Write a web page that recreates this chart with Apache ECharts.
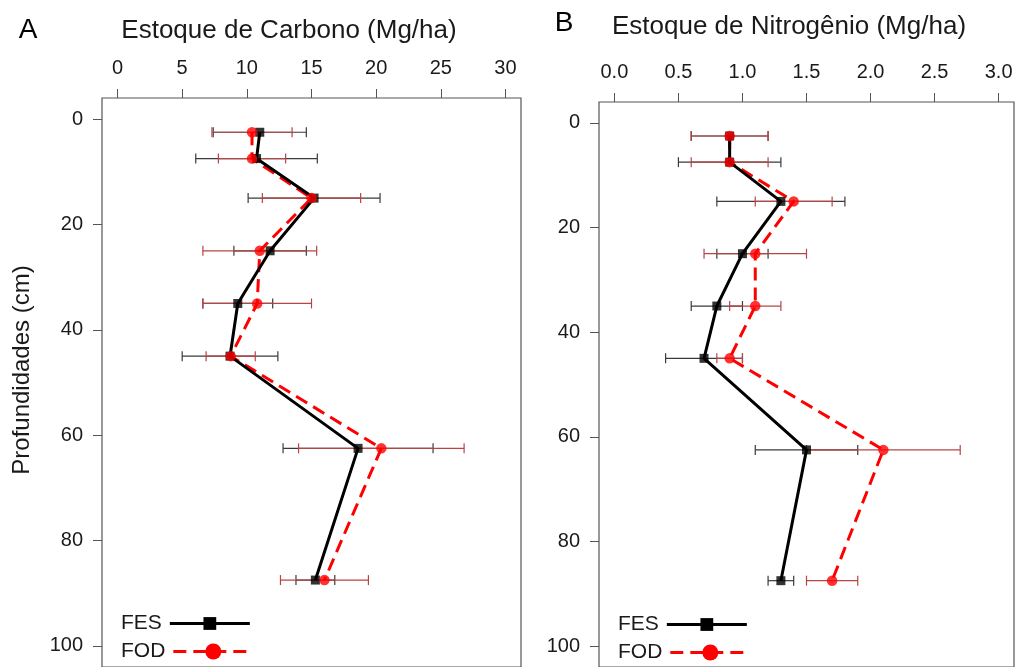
<!DOCTYPE html>
<html>
<head>
<meta charset="utf-8">
<script src="https://cdn.jsdelivr.net/npm/echarts@6/dist/echarts.min.js"></script>
<style>
  html, body { margin: 0; padding: 0; background: #fff; }
  #chart { width: 1022px; height: 667px; }
</style>
</head>
<body>
<div id="chart"></div>
<script>
// Soil layer mid-depths (cm)
const depths = [2.5, 7.5, 15, 25, 35, 45, 62.5, 87.5];

// Carbon stock (Mg/ha): means and error half-widths
const carbonFES    = [11.0, 10.75, 15.2, 11.8, 9.3, 8.7, 18.6, 15.3];
const carbonFESerr = [3.6, 4.7, 5.1, 2.8, 2.7, 3.7, 5.8, 1.5];
const carbonFOD    = [10.4, 10.4, 15.0, 11.0, 10.8, 8.75, 20.4, 16.0];
const carbonFODerr = [3.1, 2.6, 3.8, 4.4, 4.2, 1.9, 6.4, 3.4];

// Nitrogen stock (Mg/ha): means and error half-widths
const nitroFES    = [0.9, 0.9, 1.3, 1.0, 0.8, 0.7, 1.5, 1.3];
const nitroFESerr = [0.3, 0.4, 0.5, 0.2, 0.2, 0.3, 0.4, 0.1];
const nitroFOD    = [0.9, 0.9, 1.4, 1.1, 1.1, 0.9, 2.1, 1.7];
const nitroFODerr = [0.3, 0.3, 0.3, 0.4, 0.2, 0.1, 0.6, 0.2];

// Tick labels
const depthTicks  = [0, 20, 40, 60, 80, 100];
const carbonTicks = [0, 5, 10, 15, 20, 25, 30];
const nitroTicks  = [0, 0.5, 1.0, 1.5, 2.0, 2.5, 3.0];

const FONT = "'Liberation Sans', Arial, Helvetica, sans-serif";
const AXIS_COLOR = '#555';
const TEXT_COLOR = '#1a1a1a';

function errorBars(g, vals, errs, color, z) {
  return {
    type: 'custom',
    xAxisIndex: g, yAxisIndex: g,
    silent: true, z: z,
    data: vals.map((v, i) => [v, errs[i], depths[i]]),
    encode: { x: 0, y: 2 },
    renderItem: (params, api) => {
      const v = api.value(0), e = api.value(1), d = api.value(2);
      const a = api.coord([v - e, d]);
      const b = api.coord([v + e, d]);
      const cap = 5;
      const st = { stroke: color, lineWidth: 1.2 };
      return {
        type: 'group',
        children: [
          { type: 'line', shape: { x1: a[0], y1: a[1], x2: b[0], y2: b[1] }, style: st },
          { type: 'line', shape: { x1: a[0], y1: a[1] - cap, x2: a[0], y2: a[1] + cap }, style: st },
          { type: 'line', shape: { x1: b[0], y1: b[1] - cap, x2: b[0], y2: b[1] + cap }, style: st }
        ]
      };
    }
  };
}

function pairs(vals) { return vals.map((v, i) => [v, depths[i]]); }

function profileLines(g, fes, fod) {
  return [
    { type: 'line', name: 'FES', xAxisIndex: g, yAxisIndex: g, data: pairs(fes),
      symbol: 'rect', symbolSize: 9, showSymbol: false, silent: true, z: 5,
      lineStyle: { color: '#000', width: 3 }, itemStyle: { color: '#000' } },
    { type: 'line', name: 'FOD', xAxisIndex: g, yAxisIndex: g, data: pairs(fod),
      symbol: 'circle', symbolSize: 10, showSymbol: false, silent: true, z: 4,
      lineStyle: { color: '#ff0000', width: 3, type: [13, 7] }, itemStyle: { color: '#ff0000' } }
  ];
}

function profileMarkers(g, fes, fod) {
  return [
    { type: 'scatter', name: 'FES', xAxisIndex: g, yAxisIndex: g, data: pairs(fes),
      symbol: 'rect', symbolSize: 9, silent: true, z: 6, itemStyle: { color: '#000' } },
    { type: 'scatter', name: 'FOD', xAxisIndex: g, yAxisIndex: g, data: pairs(fod),
      symbol: 'circle', symbolSize: 10.5, silent: true, z: 7, itemStyle: { color: '#ff0000' } }
  ];
}

function xAxisFor(g, ticks, min, max, fmt) {
  return {
    type: 'value', gridIndex: g, position: 'top', min: min, max: max,
    axisLine: { show: false, onZero: false },
    splitLine: { show: false },
    axisTick: { show: true, customValues: ticks, length: 9, lineStyle: { color: AXIS_COLOR, width: 1 } },
    axisLabel: { customValues: ticks, margin: 20, fontSize: 20, color: TEXT_COLOR, fontFamily: FONT,
                 formatter: fmt }
  };
}

function yAxisFor(g) {
  return {
    type: 'value', gridIndex: g, inverse: true, min: -4, max: 104,
    axisLine: { show: false, onZero: false },
    splitLine: { show: false },
    axisTick: { show: true, customValues: depthTicks, length: 9, lineStyle: { color: AXIS_COLOR, width: 1 } },
    axisLabel: { customValues: depthTicks, margin: 19, fontSize: 20, color: TEXT_COLOR, fontFamily: FONT }
  };
}

function legendItem(name, left, top, h) {
  return {
    data: [name], left: left, top: top, padding: 0,
    orient: 'horizontal', align: 'right',
    itemWidth: 80, itemHeight: h, selectedMode: false,
    textStyle: { fontSize: 21, color: TEXT_COLOR, fontFamily: FONT, padding: [0, 3, 0, 0] },
    lineStyle: { width: 3 }
  };
}

const chart = echarts.init(document.getElementById('chart'), null, { renderer: 'canvas' });

chart.setOption({
  animation: false,
  backgroundColor: '#ffffff',
  grid: [
    { left: 102, top: 98, width: 419, height: 575.6, show: true,
      borderColor: AXIS_COLOR, borderWidth: 1.2, backgroundColor: 'transparent' },
    { left: 599, top: 102, width: 415, height: 570.2, show: true,
      borderColor: AXIS_COLOR, borderWidth: 1.2, backgroundColor: 'transparent' }
  ],
  xAxis: [
    xAxisFor(0, carbonTicks, -1.2, 31.2, v => String(v)),
    xAxisFor(1, nitroTicks, -0.12, 3.12, v => v.toFixed(1))
  ],
  yAxis: [yAxisFor(0), yAxisFor(1)],
  legend: [
    legendItem('FES', 121, 613, 16),
    legendItem('FOD', 121, 641, 20),
    legendItem('FES', 618, 614, 16),
    legendItem('FOD', 618, 642, 20)
  ],
  graphic: [
    { type: 'text', x: 28, y: 30, silent: true,
      style: { text: 'A', font: '28px ' + FONT, fill: '#000', textAlign: 'center', textVerticalAlign: 'middle' } },
    { type: 'text', x: 289, y: 31, silent: true,
      style: { text: 'Estoque de Carbono (Mg/ha)', font: '26px ' + FONT, fill: TEXT_COLOR, textAlign: 'center', textVerticalAlign: 'middle' } },
    { type: 'text', x: 564, y: 23, silent: true,
      style: { text: 'B', font: '28px ' + FONT, fill: '#000', textAlign: 'center', textVerticalAlign: 'middle' } },
    { type: 'text', x: 789, y: 27, silent: true,
      style: { text: 'Estoque de Nitrogênio (Mg/ha)', font: '26px ' + FONT, fill: TEXT_COLOR, textAlign: 'center', textVerticalAlign: 'middle' } },
    { type: 'text', x: 22, y: 370, rotation: Math.PI / 2, silent: true,
      style: { text: 'Profundidades (cm)', font: '24px ' + FONT, fill: TEXT_COLOR, textAlign: 'center', textVerticalAlign: 'middle' } }
  ],
  series: [
    ...profileLines(0, carbonFES, carbonFOD),
    ...profileLines(1, nitroFES, nitroFOD),
    errorBars(0, carbonFES, carbonFESerr, '#3a3a3a', 2),
    errorBars(0, carbonFOD, carbonFODerr, '#b84444', 3),
    errorBars(1, nitroFES, nitroFESerr, '#3a3a3a', 2),
    errorBars(1, nitroFOD, nitroFODerr, '#b84444', 3),
    ...profileMarkers(0, carbonFES, carbonFOD),
    ...profileMarkers(1, nitroFES, nitroFOD)
  ]
});
</script>
</body>
</html>
